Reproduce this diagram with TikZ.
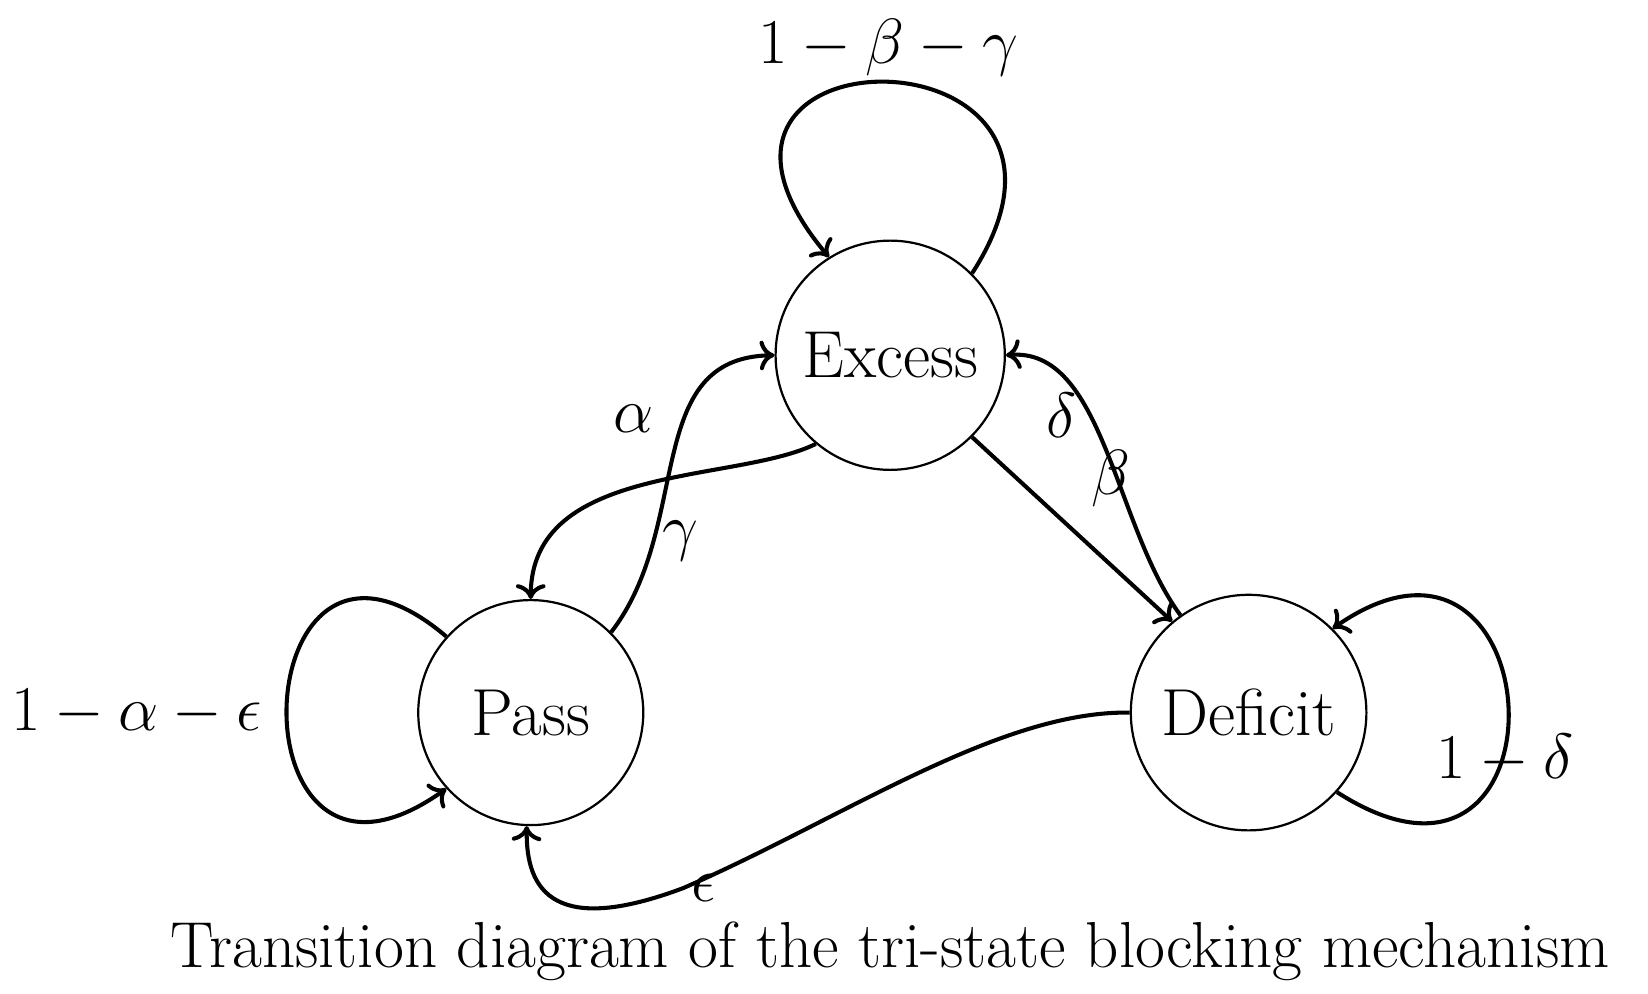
\documentclass[tikz,border=0pt]{standalone}
\usetikzlibrary{arrows.meta}
\begin{document}
\begin{tikzpicture}[x=0.01cm,y=-0.01cm,
 st/.style={circle,draw,line width=0.6pt,inner sep=0pt,font=\fontsize{18}{21}\selectfont},
 ed/.style={line width=1.1pt,-{To[length=4pt,width=8pt]}},
 lb/.style={font=\fontsize{16}{19}\selectfont}]
\useasboundingbox (0,0) rectangle (1568,945);
\node[st,minimum size=2.18cm] (E) at (847,338) {Excess};
\node[st,minimum size=2.14cm] (P) at (505,678) {Pass};
\node[st,minimum size=2.24cm] (D) at (1188,678) {Deficit};
\draw[ed] (E.45) .. controls (1080,20) and (600,20) .. (E.122);
\draw[ed] (P.138) .. controls (230,440) and (215,900) .. (P.222);
\draw[ed] (D.-42) .. controls (1500,900) and (1480,450) .. (D.45);
\draw[ed] (E.-130) .. controls (700,460) and (505,440) .. (P.90);
\draw[ed] (P.45) .. controls (660,500) and (610,340) .. (E.180);
\draw[ed] (E.-45) -- (D.130);
\draw[ed] (D.125) .. controls (1060,500) and (1050,330) .. (E.0);
\draw[ed] (D.180) .. controls (950,676) and (800,780) .. (650,845)
  .. controls (530,890) and (500,850) .. (P.-92);
\node[lb] (la) at (603,398) {$\alpha$};
\node[lb] (lg) at (647,515) {$\gamma$};
\node[lb] (lde) at (1010,395) {$\delta$};
\node[lb] (lb) at (1057,455) {$\beta$};
\node[lb] (le) at (670,845) {$\epsilon$};
\node[lb] (l1) at (845,45) {$1-\beta-\gamma$};
\node[lb] (l2) at (130,678) {$1-\alpha-\epsilon$};
\node[lb] (l3) at (1432,722) {$1-\delta$};
\node[font=\fontsize{17.6}{21}\selectfont] (cap) at (847,905) {Transition diagram of the tri-state blocking mechanism};
\end{tikzpicture}
\end{document}
